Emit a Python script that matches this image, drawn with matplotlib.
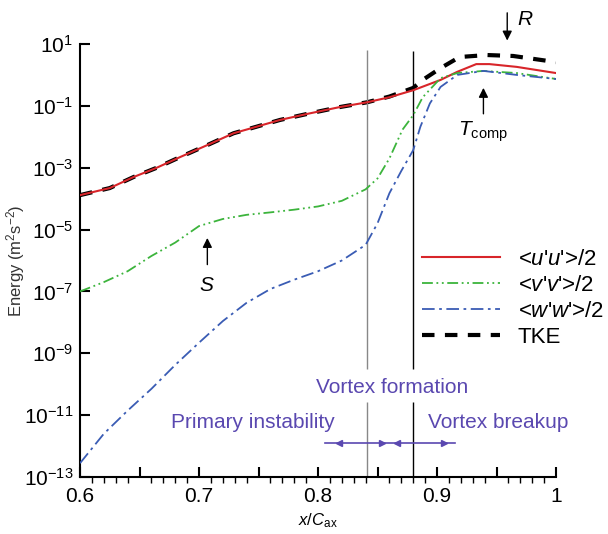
import math
import matplotlib
matplotlib.use("Agg")
from matplotlib import pyplot as plt
from matplotlib.ticker import FixedLocator, MultipleLocator, FuncFormatter

plt.rcParams['font.family'] = ['Liberation Sans', 'DejaVu Sans']
plt.rcParams['mathtext.fontset'] = 'custom'
plt.rcParams['mathtext.rm'] = 'Liberation Sans'
plt.rcParams['mathtext.it'] = 'Liberation Sans:italic'

# <u'u'>/2
x_u = [0.600, 0.625, 0.645, 0.664, 0.684, 0.707, 0.729, 0.748, 0.768, 0.791,
       0.818, 0.841, 0.860, 0.880, 0.903, 0.917, 0.933, 0.944, 0.967, 1.000]
e_u = [1.3e-4, 2.2e-4, 5.0e-4, 9.8e-4, 2.2e-3, 5.4e-3, 1.3e-2, 2.1e-2, 3.5e-2, 5.5e-2,
       9.1e-2, 0.13, 0.19, 0.32, 0.69, 1.26, 2.24, 2.24, 1.82, 1.15]

# <v'v'>/2
x_v = [0.600, 0.620, 0.640, 0.660, 0.680, 0.700, 0.720, 0.740, 0.760, 0.780,
       0.800, 0.820, 0.840, 0.850, 0.860, 0.871, 0.880, 0.888, 0.903, 0.917,
       0.939, 0.967, 1.000]
e_v = [1.0e-7, 2.0e-7, 4.5e-7, 1.4e-6, 3.8e-6, 1.3e-5, 2.2e-5, 3.0e-5, 3.6e-5, 4.4e-5,
       5.6e-5, 8.5e-5, 2.0e-4, 4.5e-4, 2.0e-3, 1.7e-2, 5.0e-2, 0.19, 0.79, 1.15,
       1.35, 1.15, 0.74]

# <w'w'>/2
x_w = [0.600, 0.620, 0.640, 0.660, 0.680, 0.700, 0.720, 0.740, 0.760, 0.780,
       0.800, 0.820, 0.840, 0.850, 0.860, 0.870, 0.880, 0.886, 0.894, 0.903,
       0.917, 0.939, 0.967, 1.000]
e_w = [2.8e-13, 2.5e-12, 1.4e-11, 7.1e-11, 4.2e-10, 2.2e-9, 1.1e-8, 4.3e-8, 1.2e-7, 2.4e-7,
       4.5e-7, 1.0e-6, 3.2e-6, 1.6e-5, 1.5e-4, 7.9e-4, 3.7e-3, 2.1e-2, 0.12, 0.41,
       1.0, 1.35, 1.0, 0.74]

# TKE
x_k = [0.600, 0.625, 0.645, 0.664, 0.684, 0.707, 0.729, 0.748, 0.768, 0.791,
       0.818, 0.841, 0.860, 0.880, 0.888, 0.903, 0.919, 0.942, 0.964, 1.000]
e_k = [1.3e-4, 2.2e-4, 5.0e-4, 9.8e-4, 2.2e-3, 5.4e-3, 1.3e-2, 2.1e-2, 3.5e-2, 5.5e-2,
       9.1e-2, 0.13, 0.20, 0.38, 0.69, 1.66, 3.8, 4.4, 4.1, 2.6]

y_ticks = [1e1, 1e-1, 1e-3, 1e-5, 1e-7, 1e-9, 1e-11, 1e-13]
x_labels = [0.6, 0.7, 0.8, 0.9, 1.0]

purple = '#5a48b0'

fig = plt.figure(figsize=(6.08, 5.34), dpi=100)
ax = fig.add_axes([0.1316, 0.1067, 0.7829, 0.8109])

ax.plot(x_u, e_u, color='#d8252a', lw=1.5, label="<$u$'$u$'>/2", zorder=3)
ax.plot(x_v, e_v, color='#3cb43c', lw=1.3, linestyle=(0, (6, 2, 1, 2, 1, 2)),
        label="<$v$'$v$'>/2", zorder=3)
ax.plot(x_w, e_w, color='#3a5cb4', lw=1.3, linestyle=(0, (7, 2.5, 1.5, 2.5)),
        label="<$w$'$w$'>/2", zorder=3)
ax.plot(x_k, e_k, color='black', lw=3, linestyle=(0, (3, 2.5)), label='TKE', zorder=2)

ax.set_yscale('log')
ax.set_xlim(0.6, 1.0)
ax.set_ylim(1e-13, 1e1)

# vertical region markers (broken where the label sits)
ax.vlines(0.841, 3e-10, 6.3, color='#888888', lw=1)
ax.vlines(0.841, 1e-13, 2.7e-11, color='#888888', lw=1)
ax.vlines(0.880, 3e-10, 5.9, color='black', lw=1)
ax.vlines(0.880, 1e-13, 2.7e-11, color='black', lw=1)

# region arrows
ax.plot([0.806, 0.915], [1.3e-12, 1.3e-12], color=purple, lw=1.2)
ax.plot([0.818, 0.866], [1.3e-12, 1.3e-12], color=purple, marker='<', ms=4, lw=0)
ax.plot([0.854, 0.906], [1.3e-12, 1.3e-12], color=purple, marker='>', ms=4, lw=0)

ax.text(0.745, 5.6e-12, 'Primary instability', color=purple, fontsize=15, ha='center', va='center')
ax.text(0.8625, 8.1e-11, 'Vortex formation', color=purple, fontsize=15, ha='center', va='center')
ax.text(0.951, 5.6e-12, 'Vortex breakup', color=purple, fontsize=15, ha='center', va='center')

# point annotations
ax.annotate('', xy=(0.707, 6.6e-6), xytext=(0.707, 6e-7),
            arrowprops=dict(arrowstyle='-|>', color='black', lw=1, mutation_scale=14))
ax.text(0.707, 1.6e-7, '$S$', fontsize=15, ha='center', va='center')
ax.annotate('', xy=(0.939, 0.47), xytext=(0.939, 0.045),
            arrowprops=dict(arrowstyle='-|>', color='black', lw=1, mutation_scale=14))
ax.text(0.939, 0.035, r'$T_{\mathrm{comp}}$', fontsize=15, ha='center', va='top')
ax.annotate('', xy=(0.959, 10.5), xytext=(0.959, 125),
            arrowprops=dict(arrowstyle='-|>', color='black', lw=1, mutation_scale=14),
            annotation_clip=False)
ax.text(0.967, 60, '$R$', fontsize=15, ha='left', va='center')

ax.spines['top'].set_visible(False)
ax.spines['right'].set_visible(False)
ax.spines['left'].set_linewidth(1.5)
ax.spines['bottom'].set_linewidth(1.5)

ax.yaxis.set_major_locator(FixedLocator(y_ticks))
ax.yaxis.set_minor_locator(FixedLocator([]))
ax.yaxis.set_major_formatter(FuncFormatter(lambda v, p: '$10^{%d}$' % round(math.log10(v))))
ax.xaxis.set_major_locator(MultipleLocator(0.05))
ax.xaxis.set_minor_locator(MultipleLocator(0.01))
ax.xaxis.set_major_formatter(FuncFormatter(
    lambda v, p: ('%g' % round(v, 2)) if any(abs(v - t) < 1e-6 for t in x_labels) else ''))
ax.tick_params(direction='in', labelsize=15, width=1.5)
ax.tick_params(axis='x', which='major', length=7, pad=7)
ax.tick_params(axis='x', which='minor', length=4, width=1)
ax.tick_params(axis='y', length=7, pad=5)

ax.set_xlabel('$x$/$C$$_{\\mathrm{ax}}$', fontsize=12, labelpad=4)
ax.set_ylabel('Energy (m$^2$s$^{-2}$)', fontsize=12, color='#333333')
ax.yaxis.set_label_coords(-0.112, 0.5)

ax.legend(loc='upper left', bbox_to_anchor=(0.70, 0.547), frameon=False, fontsize=16,
          handlelength=3.5, handletextpad=0.8, labelspacing=0.22, borderaxespad=0)

plt.savefig('out.png', dpi=100)
